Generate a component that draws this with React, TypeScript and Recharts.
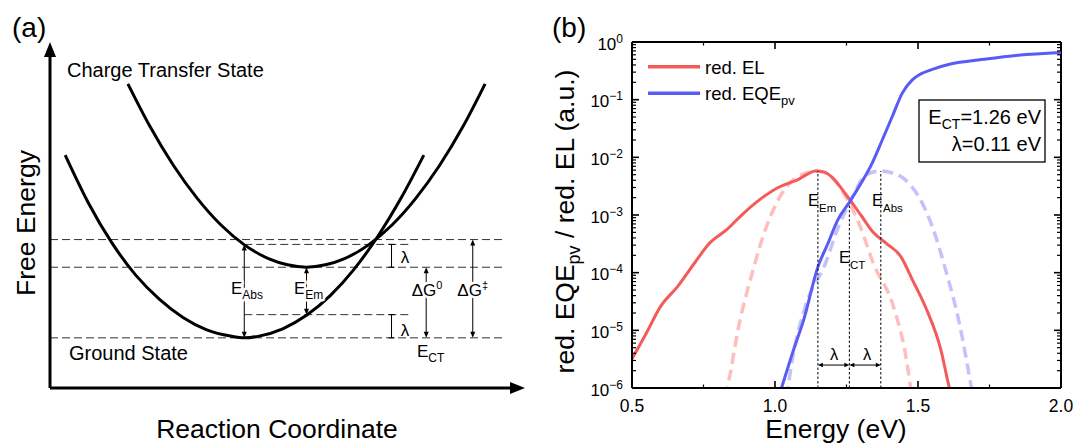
import React from 'react';
import { LineChart, Line, XAxis, YAxis, ReferenceLine } from 'recharts';

// ---------- panel (a): Marcus parabolas, reaction coordinate q vs free energy G (arb. units 0..10)
const groundQ = [0.32, 0.8, 1.3, 1.8, 2.3, 2.8, 3.3, 3.8, 4.1, 4.4, 4.9, 5.4, 5.9, 6.4, 6.9, 7.4, 7.87];
const groundG = [6.73, 5.37, 4.2, 3.27, 2.57, 2.04, 1.68, 1.5, 1.45, 1.5, 1.71, 2.1, 2.67, 3.43, 4.38, 5.51, 6.73];
const ctQ = [1.64, 2.1, 2.6, 3.1, 3.6, 4.1, 4.6, 5.0, 5.4, 5.8, 6.2, 6.7, 7.2, 7.7, 8.2, 8.7, 9.16];
const ctG = [8.79, 7.57, 6.43, 5.48, 4.71, 4.13, 3.74, 3.56, 3.49, 3.56, 3.74, 4.13, 4.71, 5.48, 6.43, 7.57, 8.79];

// energy levels (G) and positions (q) of the annotations
const G_GS = 1.45;
const G_EM = 2.12;
const G_CT = 3.49;
const G_ABS = 4.15;
const G_X = 4.29;
const Q_GS = 4.09;
const Q_CT = 5.4;
const Q_LAMBDA = 7.19;
const Q_DG0 = 7.92;
const Q_DGX = 8.9;
const Q_DASH_END = 9.54;
const Q_SHORT_END = 7.61;

// ---------- panel (b): reduced EL / EQE spectra
const elE = [0.5, 0.55, 0.6, 0.66, 0.72, 0.77, 0.83, 0.89, 0.95, 1.0, 1.05, 1.08, 1.11, 1.14, 1.17, 1.2, 1.25, 1.3, 1.345, 1.39, 1.44, 1.48, 1.53, 1.58, 1.61, 1.63];
const elV = [3.2e-6, 8.9e-6, 2.6e-5, 5.8e-5, 1.5e-4, 3.2e-4, 5.5e-4, 1.07e-3, 1.9e-3, 2.8e-3, 3.6e-3, 4.1e-3, 5.0e-3, 5.8e-3, 5.6e-3, 4.5e-3, 2.2e-3, 1.0e-3, 4.9e-4, 3.2e-4, 1.9e-4, 7.6e-5, 2.3e-5, 4.6e-6, 1.0e-6, 5e-7];

const eqeE = [1.02, 1.065, 1.1, 1.15, 1.185, 1.22, 1.26, 1.3, 1.335, 1.375, 1.41, 1.445, 1.48, 1.51, 1.55, 1.61, 1.73, 1.85, 2.0];
const eqeV = [9e-7, 4.6e-6, 1.5e-5, 1.26e-4, 3.2e-4, 8.3e-4, 1.66e-3, 3.5e-3, 7.1e-3, 2.0e-2, 5.1e-2, 0.13, 0.22, 0.28, 0.335, 0.41, 0.5, 0.59, 0.66];

const elFitE = [0.825, 0.833, 0.875, 0.923, 0.97, 1.018, 1.065, 1.113, 1.15, 1.193, 1.26, 1.298, 1.345, 1.414, 1.461, 1.48];
const elFitV = [7e-7, 1e-6, 1.3e-5, 1.1e-4, 6.3e-4, 2.1e-3, 4.1e-3, 5.4e-3, 5.8e-3, 4.7e-3, 1.6e-3, 6.3e-4, 1.4e-4, 2.6e-5, 2.8e-6, 6e-7];

const eqeFitE = [1.04, 1.045, 1.059, 1.106, 1.175, 1.222, 1.26, 1.32, 1.37, 1.407, 1.455, 1.502, 1.55, 1.597, 1.645, 1.687, 1.695];
const eqeFitV = [7e-7, 1e-6, 2.8e-6, 2.6e-5, 1.4e-4, 6.3e-4, 1.6e-3, 5.0e-3, 5.8e-3, 5.4e-3, 4.1e-3, 2.1e-3, 6.3e-4, 1.1e-4, 1.3e-5, 1e-6, 6e-7];

const E_EM = 1.15;
const E_CT = 1.26;
const E_ABS = 1.37;
const PEAK = 5.8e-3;
const CROSS = 1.6e-3;
const LAMBDA_Y = 2.5e-6;

const xTicks = [0.5, 0.75, 1.0, 1.25, 1.5, 1.75, 2.0];
const yMajor = [1e-6, 1e-5, 1e-4, 1e-3, 1e-2, 1e-1, 1];
const yTicks = yMajor.flatMap((d, i) => (i < yMajor.length - 1 ? [1, 2, 3, 4, 5, 6, 7, 8, 9].map((m) => m * d) : [d]));

const toRows = (xs: number[], ys: number[], xk: string, yk: string) => xs.map((x, i) => ({ [xk]: x, [yk]: ys[i] }));
const groundData = toRows(groundQ, groundG, 'q', 'g');
const ctData = toRows(ctQ, ctG, 'q', 'g');
const elData = toRows(elE, elV, 'e', 'v');
const eqeData = toRows(eqeE, eqeV, 'e', 'v');
const elFitData = toRows(elFitE, elFitV, 'e', 'v');
const eqeFitData = toRows(eqeFitE, eqeFitV, 'e', 'v');

const FONT = '"Liberation Sans", Arial, Helvetica, sans-serif';
const RED = '#f45a5a';
const BLUE = '#5a5af5';
const PLOT_W = 429;
const PLOT_H = 346;

type Cap = 'arrow' | 'bar' | 'none';
const seg = (start: Cap, end: Cap, head = 6, half = 2.5) => (p: any) => {
  const { x1, y1, x2, y2 } = p;
  const stroke = p.stroke || '#000';
  const sw = p.strokeWidth || 1;
  const dx = x2 - x1;
  const dy = y2 - y1;
  const L = Math.hypot(dx, dy) || 1;
  const ux = dx / L;
  const uy = dy / L;
  const nx = -uy;
  const ny = ux;
  const cap = (type: Cap, px: number, py: number, ox: number, oy: number) => {
    if (type === 'arrow') {
      const bx = px - ox * head;
      const by = py - oy * head;
      return <polygon points={`${px},${py} ${bx + nx * half},${by + ny * half} ${bx - nx * half},${by - ny * half}`} fill={stroke} />;
    }
    if (type === 'bar') {
      return <line x1={px + nx * half} y1={py + ny * half} x2={px - nx * half} y2={py - ny * half} stroke={stroke} strokeWidth={sw} />;
    }
    return null;
  };
  const sx = start === 'arrow' ? x1 + ux * head * 0.7 : x1;
  const sy = start === 'arrow' ? y1 + uy * head * 0.7 : y1;
  const ex = end === 'arrow' ? x2 - ux * head * 0.7 : x2;
  const ey = end === 'arrow' ? y2 - uy * head * 0.7 : y2;
  return (
    <g>
      <line x1={sx} y1={sy} x2={ex} y2={ey} stroke={stroke} strokeWidth={sw} strokeDasharray={p.strokeDasharray} />
      {cap(start, x1, y1, -ux, -uy)}
      {cap(end, x2, y2, ux, uy)}
    </g>
  );
};

const isMajorLog = (v: number) => {
  const l = Math.log10(v);
  return Math.abs(l - Math.round(l)) < 1e-6;
};

const YTick = (props: any) => {
  const { x, y, payload } = props;
  const v = payload.value;
  const major = isMajorLog(v);
  const len = major ? 7 : 4;
  const w = major ? 1.6 : 1.2;
  const exp = Math.round(Math.log10(v));
  return (
    <g>
      <line x1={x} x2={x + len} y1={y} y2={y} stroke="#000" strokeWidth={w} />
      <line x1={x + PLOT_W} x2={x + PLOT_W - len} y1={y} y2={y} stroke="#000" strokeWidth={w} />
      {major && (
        <text x={x - 9} y={y + 7.5} textAnchor="end" fontSize={17} fontFamily={FONT} fill="#000">
          10
          <tspan dy={-7} fontSize={12}>{exp < 0 ? `\u2212${-exp}` : `${exp}`}</tspan>
        </text>
      )}
    </g>
  );
};

const XTick = (props: any) => {
  const { x, y, payload } = props;
  const v = payload.value;
  const major = Math.abs(v * 2 - Math.round(v * 2)) < 1e-6;
  const len = major ? 7 : 3.5;
  const w = major ? 1.6 : 1.2;
  return (
    <g>
      <line x1={x} x2={x} y1={y} y2={y - len} stroke="#000" strokeWidth={w} />
      <line x1={x} x2={x} y1={y - PLOT_H} y2={y - PLOT_H + len} stroke="#000" strokeWidth={w} />
      {major && (
        <text x={x} y={y + 24} textAnchor="middle" fontSize={17.5} fontFamily={FONT} fill="#000">
          {v.toFixed(1)}
        </text>
      )}
    </g>
  );
};

const halo = { stroke: '#fff', strokeWidth: 5, paintOrder: 'stroke' as const, strokeLinejoin: 'round' as const };

function PanelA() {
  const dash = { stroke: '#333', strokeWidth: 1, strokeDasharray: '8 4', ifOverflow: 'visible' as const };
  return (
    <LineChart width={540} height={444} margin={{ top: 42, right: 15, bottom: 56, left: 50 }}>
      <XAxis type="number" dataKey="q" domain={[0, 10]} hide />
      <YAxis type="number" domain={[0, 10]} hide />
      <ReferenceLine segment={[{ x: 0, y: G_X }, { x: Q_DASH_END, y: G_X }]} {...dash} />
      <ReferenceLine segment={[{ x: Q_GS, y: G_ABS }, { x: Q_SHORT_END, y: G_ABS }]} {...dash} />
      <ReferenceLine segment={[{ x: 0, y: G_CT }, { x: Q_DASH_END, y: G_CT }]} {...dash} />
      <ReferenceLine segment={[{ x: Q_GS, y: G_EM }, { x: Q_SHORT_END, y: G_EM }]} {...dash} />
      <ReferenceLine segment={[{ x: 0, y: G_GS }, { x: Q_DASH_END, y: G_GS }]} {...dash} />
      <Line data={groundData} dataKey="g" type="monotone" stroke="#000" strokeWidth={3} dot={false} isAnimationActive={false} />
      <Line data={ctData} dataKey="g" type="monotone" stroke="#000" strokeWidth={3} dot={false} isAnimationActive={false} />
      <ReferenceLine segment={[{ x: Q_GS, y: G_GS }, { x: Q_GS, y: G_ABS }]} stroke="#000" strokeWidth={1} ifOverflow="visible" shape={seg('arrow', 'arrow', 6, 2.5)} />
      <ReferenceLine segment={[{ x: Q_CT, y: G_CT }, { x: Q_CT, y: G_EM }]} stroke="#000" strokeWidth={1} ifOverflow="visible" shape={seg('arrow', 'arrow', 6, 2.5)} />
      <ReferenceLine segment={[{ x: Q_LAMBDA, y: G_ABS }, { x: Q_LAMBDA, y: G_CT }]} stroke="#000" strokeWidth={1} ifOverflow="visible" shape={seg('bar', 'bar', 6, 3)} />
      <ReferenceLine segment={[{ x: Q_LAMBDA, y: G_EM }, { x: Q_LAMBDA, y: G_GS }]} stroke="#000" strokeWidth={1} ifOverflow="visible" shape={seg('bar', 'bar', 6, 3)} />
      <ReferenceLine segment={[{ x: Q_DG0, y: G_GS }, { x: Q_DG0, y: G_CT }]} stroke="#000" strokeWidth={1} ifOverflow="visible" shape={seg('arrow', 'arrow', 6, 2.5)} />
      <ReferenceLine segment={[{ x: Q_DGX, y: G_GS }, { x: Q_DGX, y: G_X }]} stroke="#000" strokeWidth={1} ifOverflow="visible" shape={seg('arrow', 'arrow', 6, 2.5)} />
      <ReferenceLine segment={[{ x: 0, y: 0 }, { x: 0, y: 10 }]} stroke="#000" strokeWidth={3} ifOverflow="visible" shape={seg('none', 'arrow', 15, 6)} />
      <ReferenceLine segment={[{ x: 0, y: 0 }, { x: 10, y: 0 }]} stroke="#000" strokeWidth={3} ifOverflow="visible" shape={seg('none', 'arrow', 15, 6)} />
    </LineChart>
  );
}

function PanelB() {
  const dotted = { stroke: '#000', strokeWidth: 1, strokeDasharray: '2.5 2', ifOverflow: 'visible' as const };
  return (
    <LineChart width={537} height={444} margin={{ top: 42, right: 16, bottom: 0, left: 0 }}>
      <XAxis
        type="number"
        dataKey="e"
        domain={[0.5, 2]}
        ticks={xTicks}
        interval={0}
        height={56}
        tickLine={false}
        tickSize={0}
        tickMargin={0}
        tick={(p: any) => <XTick {...p} />}
        axisLine={{ stroke: '#000', strokeWidth: 2 }}
        allowDataOverflow
      />
      <YAxis
        type="number"
        scale="log"
        domain={[1e-6, 1]}
        ticks={yTicks}
        interval={0}
        width={92}
        tickLine={false}
        tickSize={0}
        tickMargin={0}
        tick={(p: any) => <YTick {...p} />}
        axisLine={{ stroke: '#000', strokeWidth: 2 }}
        allowDataOverflow
      />
      <ReferenceLine y={1} stroke="#000" strokeWidth={2} ifOverflow="visible" />
      <ReferenceLine x={2} stroke="#000" strokeWidth={2} ifOverflow="visible" />
      <Line data={elData} dataKey="v" type="monotone" stroke={RED} strokeWidth={3} dot={false} isAnimationActive={false} />
      <Line data={eqeData} dataKey="v" type="monotone" stroke={BLUE} strokeWidth={3} dot={false} isAnimationActive={false} />
      <Line data={elFitData} dataKey="v" type="monotone" stroke="#ff5c5c" strokeOpacity={0.4} strokeWidth={3.5} strokeDasharray="11 6" dot={false} isAnimationActive={false} />
      <Line data={eqeFitData} dataKey="v" type="monotone" stroke="#6969f2" strokeOpacity={0.4} strokeWidth={3.5} strokeDasharray="11 6" dot={false} isAnimationActive={false} />
      <ReferenceLine segment={[{ x: E_EM, y: 1e-6 }, { x: E_EM, y: PEAK }]} {...dotted} />
      <ReferenceLine segment={[{ x: E_CT, y: 1e-6 }, { x: E_CT, y: CROSS }]} {...dotted} />
      <ReferenceLine segment={[{ x: E_ABS, y: 1e-6 }, { x: E_ABS, y: PEAK }]} {...dotted} />
      <ReferenceLine segment={[{ x: E_EM, y: LAMBDA_Y }, { x: E_CT, y: LAMBDA_Y }]} stroke="#000" strokeWidth={1} ifOverflow="visible" shape={seg('arrow', 'arrow', 5, 2.2)} />
      <ReferenceLine segment={[{ x: E_CT, y: LAMBDA_Y }, { x: E_ABS, y: LAMBDA_Y }]} stroke="#000" strokeWidth={1} ifOverflow="visible" shape={seg('arrow', 'arrow', 5, 2.2)} />
    </LineChart>
  );
}

function Labels() {
  return (
    <svg width={1077} height={444} style={{ position: 'absolute', left: 0, top: 0, pointerEvents: 'none' }} fontFamily={FONT} fill="#000">
      {/* panel (a) */}
      <text x={12} y={37} fontSize={28}>(a)</text>
      <text x={67} y={77} fontSize={20}>Charge Transfer State</text>
      <text x={69} y={360} fontSize={20}>Ground State</text>
      <text x={35} y={223} fontSize={26.5} textAnchor="middle" transform="rotate(-90 35 223)">Free Energy</text>
      <text x={277} y={438} fontSize={26.5} textAnchor="middle">Reaction Coordinate</text>
      <text x={231} y={294} fontSize={17} {...halo}>E<tspan dy={5} fontSize={12}>Abs</tspan></text>
      <text x={294} y={294} fontSize={17} {...halo}>E<tspan dy={5} fontSize={12}>Em</tspan></text>
      <text x={405} y={263} fontSize={17} textAnchor="middle">λ</text>
      <text x={405} y={336} fontSize={17} textAnchor="middle">λ</text>
      <text x={427} y={296} fontSize={17} textAnchor="middle" {...halo}>ΔG<tspan dy={-7} fontSize={11}>0</tspan></text>
      <text x={472.7} y={296} fontSize={17} textAnchor="middle" {...halo}>ΔG<tspan dy={-7} fontSize={11}>‡</tspan></text>
      <text x={417} y={357} fontSize={17}>E<tspan dy={5} fontSize={12}>CT</tspan></text>

      {/* panel (b) */}
      <text x={552} y={37} fontSize={28}>(b)</text>
      <line x1={648} x2={700} y1={66.7} y2={66.7} stroke={RED} strokeWidth={3.5} />
      <line x1={648} x2={700} y1={93.3} y2={93.3} stroke={BLUE} strokeWidth={3.5} />
      <text x={705} y={73.5} fontSize={18.5}>red. EL</text>
      <text x={705} y={100} fontSize={18.5}>red. EQE<tspan dy={5} fontSize={13}>pv</tspan></text>
      <rect x={919} y={100} width={126} height={62} fill="none" stroke="#000" strokeWidth={1.3} />
      <text x={1041} y={123.5} fontSize={20} textAnchor="end">E<tspan dy={5} fontSize={14}>CT</tspan><tspan dy={-5}>=1.26 eV</tspan></text>
      <text x={1041} y={150.5} fontSize={20} textAnchor="end">λ=0.11 eV</text>
      <text x={808} y={206} fontSize={16.5}>E<tspan dy={6} fontSize={11.5}>Em</tspan></text>
      <text x={872} y={206} fontSize={16.5}>E<tspan dy={6} fontSize={11.5}>Abs</tspan></text>
      <text x={839} y={263} fontSize={16.5}>E<tspan dy={6} fontSize={11.5}>CT</tspan></text>
      <text x={834} y={360} fontSize={16.5} textAnchor="middle">λ</text>
      <text x={867} y={360} fontSize={16.5} textAnchor="middle">λ</text>
      <text x={836} y={438} fontSize={26.5} textAnchor="middle">Energy (eV)</text>
      <text x={574} y={221.5} fontSize={26.5} textAnchor="middle" transform="rotate(-90 574 221.5)">
        red. EQE<tspan dy={6} fontSize={18}>pv</tspan><tspan dy={-6}> / red. EL (a.u.)</tspan>
      </text>
    </svg>
  );
}

export default function App() {
  return (
    <div style={{ position: 'absolute', left: 0, top: 0, width: 1077, height: 444, background: '#fff', fontFamily: FONT, overflow: 'hidden' }}>
      <div style={{ position: 'absolute', left: 0, top: 0 }}>
        <PanelA />
      </div>
      <div style={{ position: 'absolute', left: 540, top: 0 }}>
        <PanelB />
      </div>
      <Labels />
    </div>
  );
}
